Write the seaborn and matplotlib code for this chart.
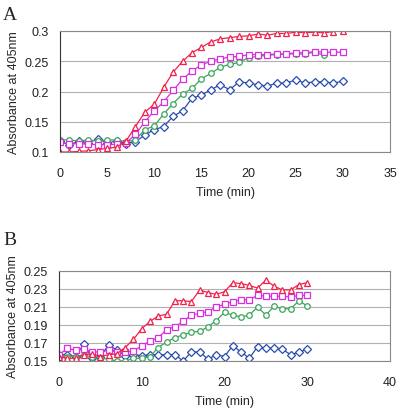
import numpy as np
import pandas as pd
import matplotlib
matplotlib.use("Agg")
import matplotlib.pyplot as plt
import seaborn as sns

time_a = list(range(0, 31))
red_a = [0.100, 0.100, 0.101, 0.102, 0.104, 0.106, 0.108, 0.118, 0.142, 0.166,
         0.179, 0.207, 0.232, 0.250, 0.264, 0.273, 0.282, 0.287, 0.289, 0.291,
         0.292, 0.295, 0.293, 0.296, 0.296, 0.298, 0.297, 0.298, 0.297, 0.299, 0.300]
magenta_a = [0.116, 0.113, 0.114, 0.113, 0.112, 0.112, 0.113, 0.115, 0.129, 0.150,
             0.168, 0.183, 0.202, 0.220, 0.234, 0.244, 0.250, 0.254, 0.257, 0.258,
             0.261, 0.261, 0.261, 0.262, 0.262, 0.264, 0.264, 0.266, 0.265, 0.265, 0.265]
green_a = [0.120, 0.120, 0.118, 0.120, 0.118, 0.120, 0.120, 0.117, 0.120, 0.137,
           0.143, 0.163, 0.180, 0.196, 0.205, 0.221, 0.230, 0.240, 0.245, 0.248,
           0.256, 0.258, 0.260, 0.261, 0.262, 0.262, 0.262, 0.265, 0.260]
blue_a = [0.118, 0.112, 0.118, 0.115, 0.122, 0.115, 0.118, 0.114, 0.117, 0.128,
          0.137, 0.142, 0.159, 0.168, 0.189, 0.194, 0.203, 0.211, 0.203, 0.216,
          0.214, 0.211, 0.209, 0.214, 0.214, 0.219, 0.214, 0.216, 0.216, 0.214, 0.217]

time_b = list(range(0, 31))
red_b = [0.155, 0.153, 0.153, 0.157, 0.158, 0.155, 0.157, 0.158, 0.165, 0.174,
         0.186, 0.194, 0.200, 0.202, 0.217, 0.217, 0.216, 0.229, 0.226, 0.224,
         0.227, 0.237, 0.236, 0.234, 0.231, 0.240, 0.233, 0.229, 0.229, 0.235, 0.237]
magenta_b = [0.157, 0.164, 0.162, 0.163, 0.160, 0.160, 0.162, 0.160, 0.160, 0.161,
             0.167, 0.172, 0.176, 0.185, 0.188, 0.194, 0.201, 0.203, 0.205, 0.210,
             0.213, 0.216, 0.218, 0.218, 0.223, 0.222, 0.222, 0.222, 0.221, 0.223, 0.223]
green_b = [0.157, 0.155, 0.155, 0.157, 0.154, 0.153, 0.152, 0.150, 0.150, 0.153,
           0.153, 0.155, 0.165, 0.171, 0.176, 0.179, 0.182, 0.183, 0.188, 0.195,
           0.204, 0.201, 0.199, 0.201, 0.210, 0.201, 0.211, 0.208, 0.208, 0.217, 0.211]
blue_b = [0.157, 0.157, 0.155, 0.169, 0.153, 0.155, 0.168, 0.162, 0.156, 0.157,
          0.156, 0.157, 0.157, 0.157, 0.157, 0.150, 0.160, 0.160, 0.152, 0.157,
          0.155, 0.167, 0.160, 0.153, 0.166, 0.164, 0.165, 0.163, 0.157, 0.160, 0.163]

colors = {"blue": "#2a4db0", "green": "#3aa65a", "magenta": "#d82ee0", "red": "#f2204a"}
markers = {"blue": "D", "green": "o", "magenta": "s", "red": "^"}
msize = {"blue": 3.8, "green": 4.0, "magenta": 4.5, "red": 5.0}

sns.set_style("white")
plt.rcParams["font.family"] = ["Liberation Sans", "DejaVu Sans"]

fig = plt.figure(figsize=(4, 4.14), dpi=100)
ax_a = fig.add_axes([60 / 400, 1 - 153 / 414, 330 / 400, 121 / 414])
ax_b = fig.add_axes([59 / 400, 1 - 362 / 414, 331 / 400, 90 / 414])


def draw(ax, t, series):
    for name, vals in series:
        df = pd.DataFrame({"Time": t[:len(vals)], "Abs": vals})
        sns.lineplot(data=df, x="Time", y="Abs", ax=ax, color=colors[name],
                     marker=markers[name], markersize=msize[name],
                     markerfacecolor="white", markeredgecolor=colors[name],
                     markeredgewidth=0.9, linewidth=0.9)


draw(ax_a, time_a, [("blue", blue_a), ("green", green_a), ("magenta", magenta_a), ("red", red_a)])
draw(ax_b, time_b, [("blue", blue_b), ("green", green_b), ("magenta", magenta_b), ("red", red_b)])

ax_a.set_xlim(0, 35)
ax_a.set_ylim(0.1, 0.3)
ax_a.set_xticks(range(0, 36, 5))
ax_a.set_yticks([0.1, 0.15, 0.2, 0.25, 0.3])
ax_a.set_yticklabels(["0.1", "0.15", "0.2", "0.25", "0.3"])

ax_b.set_xlim(0, 40)
ax_b.set_ylim(0.15, 0.25)
ax_b.set_xticks(range(0, 41, 10))
ax_b.set_yticks([0.15, 0.17, 0.19, 0.21, 0.23, 0.25])

for ax in (ax_a, ax_b):
    ax.grid(axis="y", color="#b0b0b0", linewidth=0.8)
    ax.set_axisbelow(True)
    for s in ["top", "right", "bottom"]:
        ax.spines[s].set_color("#888888")
        ax.spines[s].set_linewidth(0.8)
    ax.spines["left"].set_color("#333333")
    ax.spines["left"].set_linewidth(0.8)
    ax.tick_params(labelsize=9, length=0, colors="#222222")
    ax.tick_params(axis="x", pad=11)
    ax.tick_params(axis="y", pad=8)
    ax.set_xlabel("Time (min)", fontsize=9, labelpad=5)
    ax.set_ylabel("Absorbance at 405nm", fontsize=9, labelpad=3)

fig.text(3 / 400, 1 - 20 / 414, "A", fontsize=14, family="Liberation Serif")
fig.text(3 / 400, 1 - 245 / 414, "B", fontsize=14, family="Liberation Serif")

fig.savefig("out.png", dpi=100)
